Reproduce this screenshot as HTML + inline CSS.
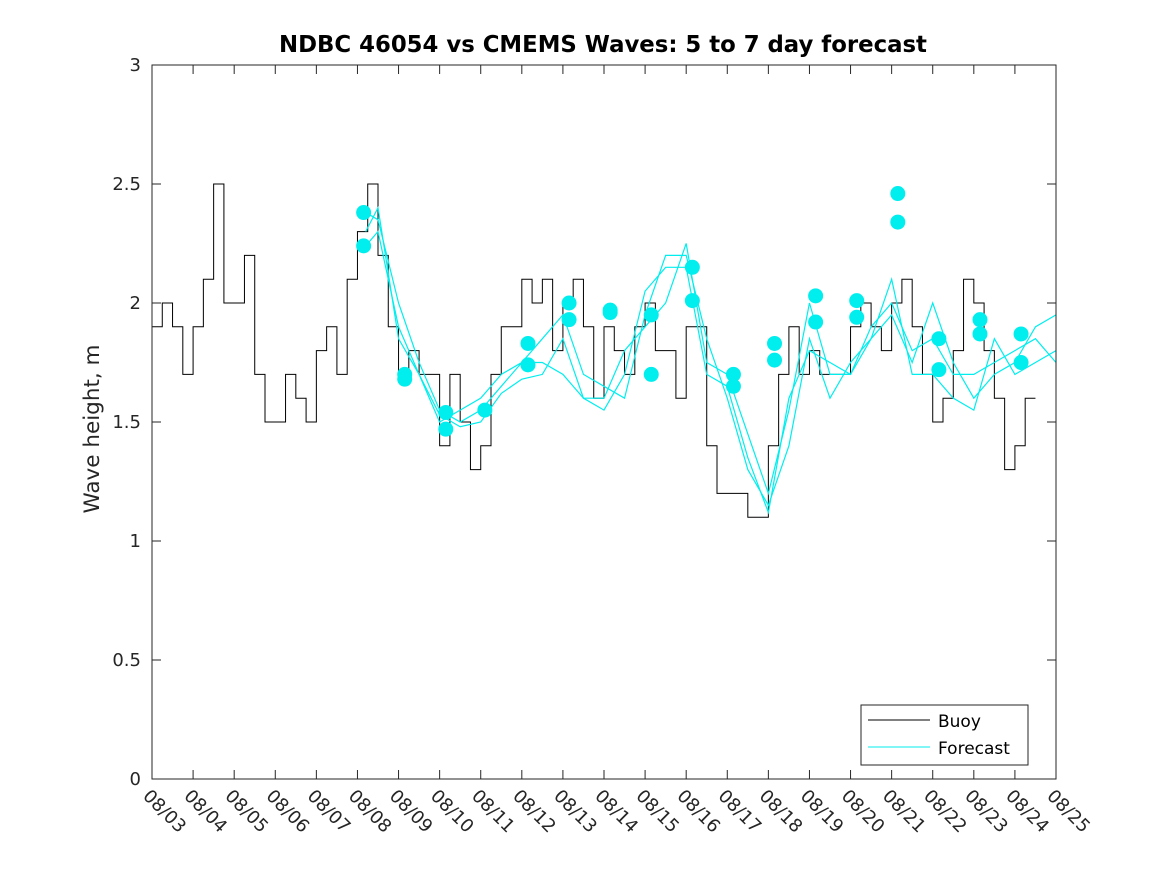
<!DOCTYPE html>
<html><head><meta charset="utf-8"><style>body{margin:0;background:#fff}svg{display:block;font-family:"DejaVu Sans","Liberation Sans",sans-serif}</style></head>
<body>
<svg id="chart" width="1167" height="875" xmlns="http://www.w3.org/2000/svg">
<rect width="1167" height="875" fill="#fff"/>
<text x="603" y="52" text-anchor="middle" font-size="22.8" font-weight="bold" fill="#000">NDBC 46054 vs CMEMS Waves: 5 to 7 day forecast</text>
<text transform="translate(99,429) rotate(-90)" text-anchor="middle" font-size="21.5" fill="#262626">Wave height, m</text>
<g id="ticks"></g>
<g id="series"></g>
<rect x="152" y="65" width="904" height="714" fill="none" stroke="#262626" stroke-width="1"/>
<g>
<rect x="861" y="705" width="167" height="60" fill="#fff" stroke="#262626"/>
<line x1="868" y1="720" x2="930" y2="720" stroke="#000"/>
<text x="938" y="727" font-size="17" fill="#000">Buoy</text>
<line x1="868" y1="747" x2="930" y2="747" stroke="#00eeee"/>
<text x="938" y="754" font-size="17" fill="#000">Forecast</text>
</g>
</svg>
<script>
const xLabels=["08/03","08/04","08/05","08/06","08/07","08/08","08/09","08/10","08/11","08/12","08/13","08/14","08/15","08/16","08/17","08/18","08/19","08/20","08/21","08/22","08/23","08/24","08/25"];
const yTicks=[0,0.5,1,1.5,2,2.5,3];
// buoy values every 0.25 day from 08/03
const buoy=[1.9,2.0,1.9,1.7,1.9,2.1,2.5,2.0,2.0,2.2,1.7,1.5,1.5,1.7,1.6,1.5,1.8,1.9,1.7,2.1,2.3,2.5,2.2,1.9,1.7,1.8,1.7,1.7,1.4,1.7,1.5,1.3,1.4,1.7,1.9,1.9,2.1,2.0,2.1,1.8,2.0,2.1,1.9,1.6,1.9,1.8,1.7,1.9,2.0,1.8,1.8,1.6,1.9,1.9,1.4,1.2,1.2,1.2,1.1,1.1,1.4,1.7,1.9,1.7,1.8,1.7,1.7,1.7,1.9,2.0,1.9,1.8,2.0,2.1,1.9,1.7,1.5,1.6,1.8,2.1,2.0,1.8,1.6,1.3,1.4,1.6];
const fcDays=[5.2,5.5,6,6.5,7,7.5,8,8.5,9,9.5,10,10.5,11,11.5,12,12.5,13,13.5,14,14.5,15,15.5,16,16.5,17,17.5,18,18.5,19,19.5,20,20.5,21,21.5,22];
const fcA=[2.38,2.35,2.0,1.75,1.55,1.5,1.55,1.65,1.75,1.85,1.95,1.7,1.65,1.6,1.95,2.2,2.2,1.85,1.6,1.3,1.15,1.4,1.85,1.6,1.75,1.85,1.95,1.75,2.0,1.75,1.6,1.7,1.75,1.9,1.95];
const fcB=[2.24,2.3,1.9,1.7,1.5,1.55,1.6,1.7,1.75,1.75,1.7,1.6,1.6,1.8,1.9,2.0,2.25,1.75,1.7,1.45,1.2,1.55,2.0,1.7,1.7,1.9,2.0,1.8,1.85,1.7,1.7,1.75,1.8,1.85,1.75];
const fcC=[2.3,2.4,1.85,1.7,1.53,1.48,1.5,1.62,1.68,1.7,1.85,1.6,1.55,1.7,2.05,2.15,2.15,1.7,1.65,1.35,1.12,1.6,1.8,1.75,1.7,1.85,2.1,1.7,1.7,1.6,1.55,1.85,1.7,1.75,1.8];
const dotDays=[5.15,5.15,6.15,6.15,7.15,7.15,8.1,9.15,9.15,10.15,10.15,11.15,11.15,12.15,12.15,13.15,13.15,14.15,14.15,15.15,15.15,16.15,16.15,17.15,17.15,18.15,18.15,19.15,19.15,20.15,20.15,21.15,21.15];
const dotVals=[2.38,2.24,1.70,1.68,1.54,1.47,1.55,1.83,1.74,2.00,1.93,1.97,1.96,1.95,1.70,2.15,2.01,1.70,1.65,1.83,1.76,2.03,1.92,2.01,1.94,2.46,2.34,1.85,1.72,1.93,1.87,1.87,1.75];
const NS="http://www.w3.org/2000/svg";
const X=d=>152+d*(904/22), Y=v=>779-v*238;
function mk(tag,attrs,parent){const e=document.createElementNS(NS,tag);for(const k in attrs)e.setAttribute(k,attrs[k]);parent.appendChild(e);return e;}
const tg=document.getElementById('ticks'), sg=document.getElementById('series');
xLabels.forEach((l,i)=>{const x=X(i);
 mk('line',{x1:x,y1:779,x2:x,y2:770,stroke:'#262626'},tg);mk('line',{x1:x,y1:65,x2:x,y2:74,stroke:'#262626'},tg);
 const t=mk('text',{transform:`translate(${x-10},${797}) rotate(45)`,'font-size':18,fill:'#262626'},tg);t.textContent=l;
 
 });
yTicks.forEach(v=>{const y=Y(v);
 mk('line',{x1:152,y1:y,x2:161,y2:y,stroke:'#262626'},tg);mk('line',{x1:1047,y1:y,x2:1056,y2:y,stroke:'#262626'},tg);
 const t=mk('text',{x:141,y:y+6,'text-anchor':'end','font-size':18,fill:'#262626'},tg);t.textContent=String(v);
 
 });
let d='';buoy.forEach((v,i)=>{const x0=X(i*0.25),x1=X((i+1)*0.25);d+=(i?'L':'M')+x0+' '+Y(v)+'L'+x1+' '+Y(v);});
const bl=mk('path',{d:d,fill:'none',stroke:'#000','stroke-width':1},sg);


[fcA,fcB,fcC].forEach(s=>{const p=mk('path',{d:s.map((v,i)=>(i?'L':'M')+X(fcDays[i])+' '+Y(v)).join(''),fill:'none',stroke:'#00eeee','stroke-width':1.2},sg);
 
 });
dotVals.forEach((v,i)=>{const c=mk('circle',{cx:X(dotDays[i]),cy:Y(v),r:7.5,fill:'#00eeee'},sg);
 
 });
</script>
</body></html>
